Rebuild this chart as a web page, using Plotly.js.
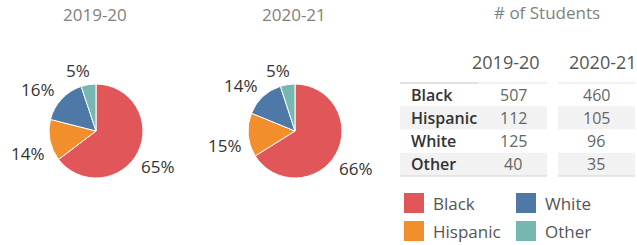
<!DOCTYPE html>
<html><head><meta charset="utf-8">
<script src="https://cdn.plot.ly/plotly-3.0.1.min.js"></script>
<style>html,body{margin:0;padding:0;background:#fff}#chart{width:637px;height:245px}</style>
</head><body><div id="chart"></div>
<script>
// ---- data ----
const categories = ['Black', 'Hispanic', 'White', 'Other'];
const years = ['2019-20', '2020-21'];
const students2019 = [507, 112, 125, 40];
const students2020 = [460, 105, 96, 35];
const tableTitle = '# of Students';

// ---- styles ----
const sliceColors = ['#e15759', '#f28e2b', '#4e79a7', '#76b7b2'];
const FONT = 'Open Sans, sans-serif';
const W = 637, H = 245;
const fx = px => px / W, fy = py => 1 - py / H;

const annotations = [];
const shapes = [];
function txt(text, x, y, size, color, xanchor, weight) {
  annotations.push({text: text, x: fx(x), y: fy(y), xref: 'paper', yref: 'paper',
    xanchor: xanchor || 'center', yanchor: 'middle', showarrow: false,
    font: {family: FONT, size: size, color: color, weight: weight || 400}});
}

function pieTrace(values, cx, cy, r) {
  // percent labels placed just outside each slice's mid-angle
  const total = values.reduce((a, b) => a + b, 0);
  let cum = 0;
  values.forEach(v => {
    let mid = (cum + v / 2) / total * 2 * Math.PI;
    cum += v;
    mid += (Math.sin(mid) > 0 ? 3 : -7) * Math.PI / 180;
    const dx = Math.sin(mid), dy = -Math.cos(mid);
    const label = Math.round(v / total * 100) + '%';
    const w = label.length * 11, h = 13;
    const d = r + 7 + Math.abs(dx) * w / 2 + Math.abs(dy) * h / 2;
    txt(label, cx + dx * d, cy + dy * d, 17, '#333333');
  });
  return {
    type: 'pie', labels: categories, values: values, sort: false,
    direction: 'clockwise', rotation: 0,
    marker: {colors: sliceColors, line: {color: '#ffffff', width: 1}},
    textinfo: 'none', automargin: false, hoverinfo: 'none', showlegend: false,
    domain: {x: [fx(cx - r), fx(cx + r)], y: [fy(cy + r), fy(cy - r)]}
  };
}

const traces = [
  pieTrace(students2019, 96, 131, 47),
  pieTrace(students2020, 295, 131, 47)
];

txt(years[0], 95, 14, 17, '#7f7f7f');
txt(years[1], 294, 14, 17, '#7f7f7f');
txt(tableTitle, 547, 12, 17, '#7f7f7f');
txt(years[0], 506, 62, 18, '#555555');
txt(years[1], 603, 62, 18, '#555555');

// ---- table ----
const tableTop = 83, rowH = 23.25;
const blocks = [[400, 547], [558, 635]];
categories.forEach((c, i) => {
  const y0 = tableTop + i * rowH, yc = y0 + rowH / 2;
  if (i % 2) blocks.forEach(([a, b]) => shapes.push({type: 'rect', xref: 'paper', yref: 'paper', layer: 'below',
    x0: fx(a), x1: fx(b), y0: fy(y0 + rowH), y1: fy(y0), fillcolor: '#f2f2f2', line: {width: 0}}));
  txt(c, 409, yc, 16, '#333333', 'left', 600);
  txt(String(students2019[i]), 513, yc, 16, '#666666');
  txt(String(students2020[i]), 596, yc, 16, '#666666');
});
function hline(a, b, y, color) {
  shapes.push({type: 'line', xref: 'paper', yref: 'paper',
    x0: fx(a), x1: fx(b), y0: fy(y), y1: fy(y), line: {color: color, width: 1}});
}
hline(400, 478, tableTop, '#c4c4c4');
hline(478, 547, tableTop, '#e2e2e2');
hline(558, 635, tableTop, '#e2e2e2');
hline(400, 547, tableTop + 4 * rowH, '#d4d4d4');
hline(558, 635, tableTop + 4 * rowH, '#d4d4d4');

// ---- legend (2 columns) ----
categories.forEach((c, i) => {
  const colIdx = [0, 0, 1, 1][i];
  const rowIdx = [0, 1, 0, 1][i];
  const lx = colIdx ? 516 : 404, ly = rowIdx ? 221 : 193;
  shapes.push({type: 'rect', xref: 'paper', yref: 'paper', x0: fx(lx), x1: fx(lx + 20),
    y0: fy(ly + 20), y1: fy(ly), fillcolor: sliceColors[i], line: {width: 0}});
  txt(c, lx + 27, ly + 10, 17, '#555555', 'left');
});

const layout = {
  width: W, height: H, margin: {l: 0, r: 0, t: 0, b: 0},
  paper_bgcolor: '#ffffff', plot_bgcolor: '#ffffff',
  showlegend: false, annotations: annotations, shapes: shapes,
  font: {family: FONT}
};
Plotly.newPlot('chart', traces, layout, {displayModeBar: false, staticPlot: true});
</script></body></html>
